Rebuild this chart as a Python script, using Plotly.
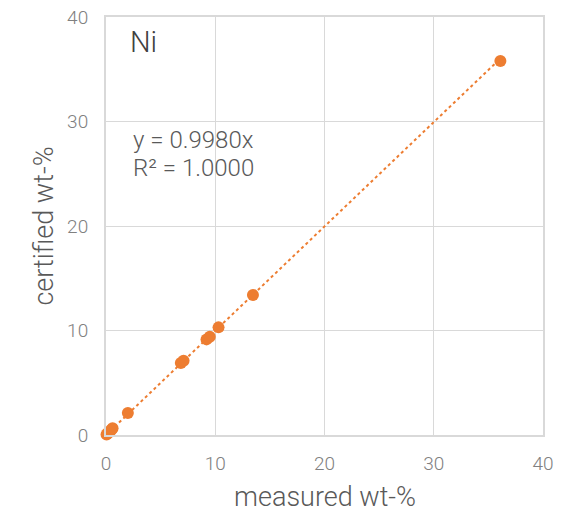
import plotly.graph_objects as go

# Data
measured = [0.05, 0.15, 0.25, 0.35, 0.5, 0.6, 2.0, 6.85, 7.1, 9.2, 9.5, 10.3, 13.45, 36.1]
certified = [0.05, 0.15, 0.25, 0.35, 0.5, 0.65, 2.1, 6.9, 7.1, 9.15, 9.4, 10.3, 13.4, 35.8]
slope = 0.9980
trend_x = [0, 36.1]
trend_y = [slope * v for v in trend_x]

x_ticks = [0, 10, 20, 30, 40]
y_ticks = [0, 10, 20, 30, 40]

orange = "#ED7D31"
gray_text = "#808080"
grid = "#d9d9d9"
font_family = "Roboto"

fig = go.Figure()
fig.add_trace(go.Scatter(
    x=trend_x, y=trend_y, mode="lines",
    line=dict(color=orange, width=2, dash="dot"),
    hoverinfo="skip", showlegend=False,
))
fig.add_trace(go.Scatter(
    x=measured, y=certified, mode="markers",
    marker=dict(color=orange, size=12),
    cliponaxis=False,
    showlegend=False,
))

fig.add_annotation(x=0.05, y=0.940, xref="paper", yref="paper", text="Ni",
                   showarrow=False, xanchor="left", yanchor="middle",
                   font=dict(family=font_family, size=29, color="#404040", weight=300))
fig.add_annotation(x=0.057, y=0.706, xref="paper", yref="paper",
                   text="y = 0.9980x",
                   showarrow=False, xanchor="left", yanchor="middle",
                   font=dict(family=font_family, size=24, color="#595959", weight=300))
fig.add_annotation(x=0.057, y=0.639, xref="paper", yref="paper",
                   text="R² = 1.0000",
                   showarrow=False, xanchor="left", yanchor="middle",
                   font=dict(family=font_family, size=24, color="#595959", weight=300))
# x-axis title as annotation for exact placement
fig.add_annotation(x=0.5, y=-0.191, xref="paper", yref="paper",
                   text="measured wt-%",
                   showarrow=False, xanchor="center", yanchor="bottom",
                   font=dict(family=font_family, size=27, color="#595959", weight=300))

axis_common = dict(
    range=[0, 40], showgrid=True, gridcolor=grid, gridwidth=1,
    showline=True, linecolor=grid, linewidth=2, mirror=True,
    zeroline=False, ticks="", automargin=False,
    tickfont=dict(family=font_family, size=19, color=gray_text, weight=300),
)
fig.update_xaxes(tickvals=x_ticks, ticktext=[str(v) for v in x_ticks],
                 ticklabelstandoff=10,
                 **axis_common)
fig.update_yaxes(tickvals=y_ticks, ticktext=[str(v) for v in y_ticks],
                 ticklabelstandoff=12,
                 title=dict(text="certified wt-%", standoff=6,
                            font=dict(family=font_family, size=27, color="#595959", weight=300)),
                 **axis_common)

fig.update_layout(
    width=575, height=516,
    margin=dict(l=106, r=32, t=17, b=81),
    paper_bgcolor="white", plot_bgcolor="white",
    font=dict(family=font_family),
)

fig.write_html("out.html")
